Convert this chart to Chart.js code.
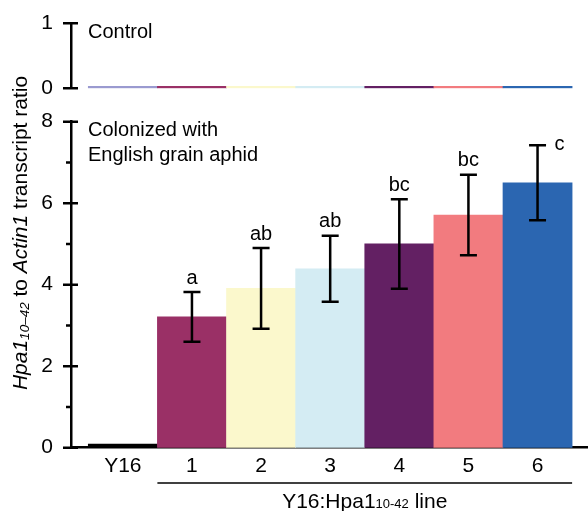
<!DOCTYPE html>
<html>
<head>
<meta charset="utf-8">
<title>Hpa1 transcript ratio</title>
<script src="https://cdn.jsdelivr.net/npm/chart.js@4.4.0/dist/chart.umd.min.js"></script>
<style>
  html, body { margin: 0; padding: 0; background: #fff; }
  #wrap { position: relative; width: 588px; height: 511px; }
  #wrap canvas { position: absolute; left: 0; top: 0; }
</style>
</head>
<body>
<div id="wrap">
  <canvas id="main" width="588" height="511"></canvas>
  <canvas id="ctrl" width="588" height="100"></canvas>
</div>
<script>
// plant lines on the x axis
const lines = ['Y16', '1', '2', '3', '4', '5', '6'];
const barColors = ['#000000', '#9a3066', '#fbf8cc', '#d4ecf3', '#632063', '#f27b7f', '#2b66b1'];
const controlColors = ['#9a9ad0', '#9a3066', '#fbf8cc', '#d4ecf3', '#632063', '#f27b7f', '#2b66b1'];

// Hpa1(10-42) / Actin1 ratio
const controlRatio = [0.03, 0.03, 0.03, 0.03, 0.03, 0.03, 0.03];
const colonizedRatio = [0.09, 3.21, 3.91, 4.39, 5.0, 5.71, 6.5];
const colonizedSE = [0, 0.61, 0.99, 0.81, 1.1, 0.99, 0.92];
const groupLetters = ['', 'a', 'ab', 'ab', 'bc', 'bc', 'c'];

const controlTicks = [0, 1];
const colonizedTicks = [0, 2, 4, 6, 8];

const FONT = '"Liberation Sans", Arial, Helvetica, sans-serif';
const STROKE = 2.5;

// writes a run of text pieces (normal / italic / subscript) centred on cx
function drawParts(ctx, parts, cx, baseY) {
  let total = 0;
  parts.forEach(p => {
    ctx.font = (p.italic ? 'italic ' : '') + p.size + 'px ' + FONT;
    p.w = ctx.measureText(p.text).width;
    total += p.w;
  });
  let x = cx - total / 2;
  ctx.textAlign = 'left';
  ctx.textBaseline = 'alphabetic';
  parts.forEach(p => {
    ctx.font = (p.italic ? 'italic ' : '') + p.size + 'px ' + FONT;
    ctx.fillText(p.text, x, baseY + (p.dy || 0));
    x += p.w;
  });
}

// short tick marks; labelled ones cross the axis line
const yTickMarks = {
  id: 'yTickMarks',
  afterDraw(chart, args, opts) {
    const ctx = chart.ctx;
    const y = chart.scales.y;
    const left = chart.chartArea.left;
    ctx.save();
    ctx.strokeStyle = '#000';
    ctx.lineWidth = STROKE;
    ctx.beginPath();
    y.ticks.forEach(t => {
      const py = y.getPixelForValue(t.value);
      const major = opts.major.includes(t.value);
      ctx.moveTo(left - (major ? 8 : 5), py);
      ctx.lineTo(left + (major ? 7 : 0), py);
    });
    ctx.stroke();
    ctx.restore();
  }
};

const xScale = (show) => ({
  type: 'linear',
  display: show,
  offset: false,
  min: -0.75,
  max: 6.73,
  afterBuildTicks: ax => { ax.ticks = lines.map((_, i) => ({ value: i })); },
  afterFit: ax => { if (show) ax.height = 40; },
  grid: { display: false, drawTicks: false, offset: false },
  border: { display: show, color: '#000', width: STROKE },
  ticks: {
    padding: 6,
    color: '#000',
    font: { size: 21, family: FONT },
    maxRotation: 0,
    autoSkip: false,
    callback: v => lines[v]
  }
});

const yScale = (max, labelled) => ({
  min: 0,
  max: max,
  afterFit: ax => {
    ax.width = 71;
    // the layout padding already leaves room for the end labels
    ax.paddingTop = 0;
    ax.paddingBottom = 0;
  },
  grid: { display: false, drawTicks: false },
  border: { color: '#000', width: STROKE },
  ticks: {
    stepSize: 1,
    padding: 18,
    color: '#000',
    font: { size: 21, family: FONT },
    callback: v => labelled.includes(v) ? String(v) : ''
  }
});

// error bars, letters and the text around the colonized panel
const colonizedDecor = {
  id: 'colonizedDecor',
  afterDraw(chart) {
    const { ctx, chartArea } = chart;
    const x = chart.scales.x, y = chart.scales.y;
    ctx.save();
    ctx.strokeStyle = '#000';
    ctx.fillStyle = '#000';
    ctx.lineWidth = STROKE;

    colonizedRatio.forEach((v, i) => {
      const se = colonizedSE[i];
      if (!se) return;
      const cx = x.getPixelForValue(i);
      const top = y.getPixelForValue(v + se);
      const bot = y.getPixelForValue(v - se);
      ctx.beginPath();
      ctx.moveTo(cx, top); ctx.lineTo(cx, bot);
      ctx.moveTo(cx - 8.5, top); ctx.lineTo(cx + 8.5, top);
      ctx.moveTo(cx - 8.5, bot); ctx.lineTo(cx + 8.5, bot);
      ctx.stroke();

      ctx.font = '20px ' + FONT;
      ctx.textBaseline = 'alphabetic';
      if (top - 30 < chartArea.top) {
        ctx.textAlign = 'left';
        ctx.fillText(groupLetters[i], cx + 17, top + 5);
      } else {
        ctx.textAlign = 'center';
        ctx.fillText(groupLetters[i], cx, top - 8.5);
      }
    });

    // panel caption
    ctx.font = '20px ' + FONT;
    ctx.textAlign = 'left';
    ctx.textBaseline = 'alphabetic';
    ctx.fillText('Colonized with', chartArea.left + 17, 136);
    ctx.fillText('English grain aphid', chartArea.left + 17, 161);

    // bracket under the transgenic lines
    const x0 = x.getPixelForValue(0.5), x1 = x.getPixelForValue(lines.length - 0.5);
    ctx.lineWidth = 1.5;
    ctx.beginPath();
    ctx.moveTo(x0, 483); ctx.lineTo(x1, 483);
    ctx.stroke();
    drawParts(ctx, [
      { text: 'Y16:Hpa1', size: 21 },
      { text: '10-42', size: 13 },
      { text: ' line', size: 21 }
    ], (x.getPixelForValue(1) + x.getPixelForValue(6)) / 2, 507.5);

    // y axis title, shared by both panels
    ctx.save();
    ctx.translate(20, 233);
    ctx.rotate(-Math.PI / 2);
    drawParts(ctx, [
      { text: 'Hpa1', size: 21, italic: true },
      { text: '10\u201342', size: 13.5, italic: true, dy: 2 },
      { text: ' to ', size: 21 },
      { text: 'Actin1', size: 21, italic: true },
      { text: ' transcript ratio', size: 21 }
    ], 0, 7);
    ctx.restore();

    ctx.restore();
  }
};

const controlDecor = {
  id: 'controlDecor',
  afterDraw(chart) {
    const { ctx, chartArea } = chart;
    ctx.save();
    ctx.fillStyle = '#000';
    ctx.font = '20px ' + FONT;
    ctx.textAlign = 'left';
    ctx.textBaseline = 'alphabetic';
    ctx.fillText('Control', chartArea.left + 17, 38);
    ctx.restore();
  }
};

const baseOptions = {
  responsive: false,
  animation: false,
  plugins: { legend: { display: false }, tooltip: { enabled: false } }
};

new Chart(document.getElementById('main'), {
  type: 'bar',
  data: {
    datasets: [{
      data: colonizedRatio.map((v, i) => ({ x: i, y: v })),
      backgroundColor: barColors,
      borderWidth: 0,
      categoryPercentage: 1,
      barPercentage: 1
    }]
  },
  options: {
    ...baseOptions,
    layout: { padding: { top: 121.7, bottom: 23.3, left: 0, right: 0 } },
    scales: { x: xScale(true), y: yScale(8, colonizedTicks) },
    plugins: { ...baseOptions.plugins, yTickMarks: { major: colonizedTicks } }
  },
  plugins: [yTickMarks, colonizedDecor]
});

new Chart(document.getElementById('ctrl'), {
  type: 'bar',
  data: {
    datasets: [{
      data: controlRatio.map((v, i) => ({ x: i, y: v })),
      backgroundColor: controlColors,
      borderWidth: 0,
      categoryPercentage: 1,
      barPercentage: 1
    }]
  },
  options: {
    ...baseOptions,
    layout: { padding: { top: 23.3, bottom: 11.7, left: 0, right: 0 } },
    scales: { x: xScale(false), y: yScale(1, controlTicks) },
    plugins: { ...baseOptions.plugins, yTickMarks: { major: controlTicks } }
  },
  plugins: [yTickMarks, controlDecor]
});
</script>
</body>
</html>
